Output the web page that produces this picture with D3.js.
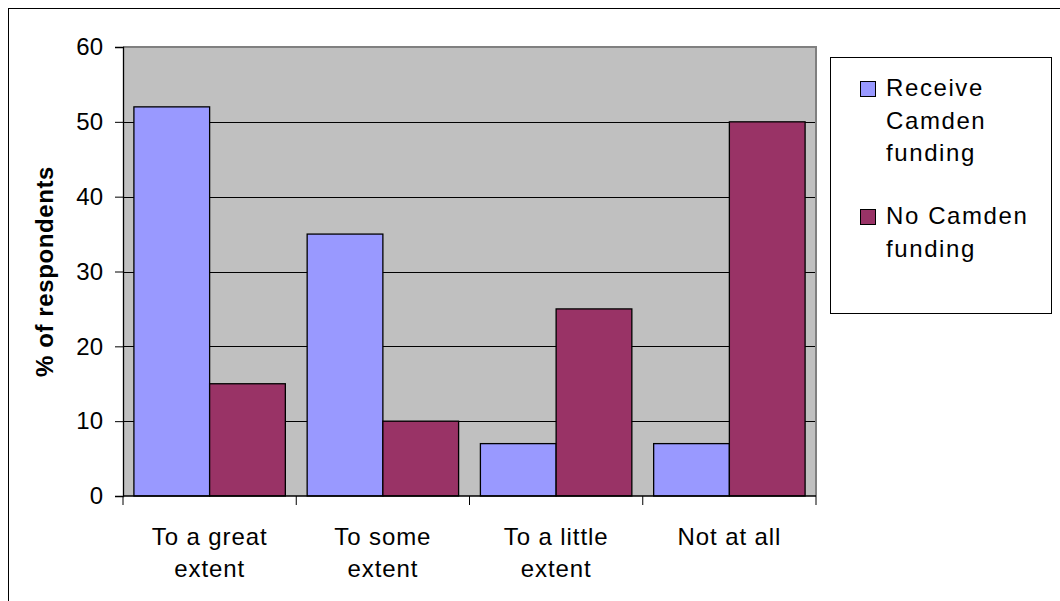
<!DOCTYPE html>
<html>
<head>
<meta charset="utf-8">
<script src="https://cdn.jsdelivr.net/npm/d3@7"></script>
<style>
  html, body { margin: 0; padding: 0; background: #ffffff; }
  svg { display: block; }
  text { font-family: "Liberation Sans", Arial, sans-serif; fill: #000; }
</style>
</head>
<body>
<svg id="chart" width="1060" height="601"></svg>
<script>
// Chart data
const categories = [["To a great", "extent"], ["To some", "extent"], ["To a little", "extent"], ["Not at all"]];
const seriesNames = [["Receive", "Camden", "funding"], ["No Camden", "funding"]];
const receiveFunding = [52, 35, 7, 7];
const noFunding = [15, 10, 25, 50];
const yTicks = [0, 10, 20, 30, 40, 50, 60];
const colors = ["#9999FF", "#993366"];

const svg = d3.select("#chart");
const W = 1060, H = 601;
const plot = { left: 123, right: 816, top: 47, bottom: 496 };

// Outer chart frame (runs off the right and bottom edges)
svg.append("rect")
  .attr("x", 8.5).attr("y", 8.5)
  .attr("width", W).attr("height", H)
  .attr("fill", "#fff").attr("stroke", "#000").attr("stroke-width", 1);

const catKeys = categories.map((c, i) => i);
const x0 = d3.scaleBand().domain(catKeys).range([plot.left, plot.right]).padding(0);
const x1 = d3.scaleBand().domain([0, 1]).range([0, x0.bandwidth()]).paddingInner(0).paddingOuter(0.144);
const y = d3.scaleLinear().domain([0, 60]).range([plot.bottom, plot.top]);

// Plot background
svg.append("rect")
  .attr("x", plot.left).attr("y", plot.top)
  .attr("width", plot.right - plot.left).attr("height", plot.bottom - plot.top)
  .attr("fill", "#C0C0C0");

// Horizontal gridlines
svg.append("g").selectAll("line")
  .data(yTicks.filter(t => t > 0 && t < 60))
  .join("line")
  .attr("x1", plot.left).attr("x2", plot.right)
  .attr("y1", d => Math.round(y(d)) + 0.5).attr("y2", d => Math.round(y(d)) + 0.5)
  .attr("stroke", "#000").attr("stroke-width", 1);

// Top and right plot border
svg.append("path")
  .attr("d", `M${plot.left},${plot.top} H${plot.right} V${plot.bottom}`)
  .attr("fill", "none").attr("stroke", "#808080").attr("stroke-width", 2);

// Bars
const rows = categories.map((c, i) => ({ i, vals: [receiveFunding[i], noFunding[i]] }));
const groups = svg.append("g").selectAll("g")
  .data(rows).join("g")
  .attr("transform", d => `translate(${x0(d.i)},0)`);
groups.selectAll("rect")
  .data(d => d.vals.map((v, s) => ({ v, s })))
  .join("rect")
  .attr("x", d => x1(d.s))
  .attr("y", d => y(d.v))
  .attr("width", x1.bandwidth())
  .attr("height", d => y(0) - y(d.v))
  .attr("fill", d => colors[d.s])
  .attr("stroke", "#000").attr("stroke-width", 1.3);

// Y axis
const yAxis = svg.append("g")
  .attr("transform", `translate(${plot.left},0)`)
  .call(d3.axisLeft(y).tickValues(yTicks).tickSize(8).tickPadding(12).tickFormat(d3.format("d")));
yAxis.select(".domain").attr("stroke", "#000").attr("stroke-width", 1.3);
yAxis.selectAll(".tick line").attr("stroke", "#000");
yAxis.selectAll(".tick text")
  .attr("font-size", 24).attr("font-family", "Liberation Sans, Arial, sans-serif").attr("fill", "#000");

// X axis with tick marks at category boundaries
const xAxisG = svg.append("g");
xAxisG.append("line")
  .attr("x1", plot.left).attr("x2", plot.right)
  .attr("y1", plot.bottom).attr("y2", plot.bottom)
  .attr("stroke", "#000").attr("stroke-width", 1.3);
xAxisG.selectAll("line.tk")
  .data(catKeys.concat([categories.length]))
  .join("line").attr("class", "tk")
  .attr("x1", d => d < categories.length ? x0(d) : plot.right)
  .attr("x2", d => d < categories.length ? x0(d) : plot.right)
  .attr("y1", plot.bottom).attr("y2", plot.bottom + 9)
  .attr("stroke", "#000").attr("stroke-width", 1);

// Category labels
xAxisG.selectAll("text.cat")
  .data(catKeys).join("text").attr("class", "cat")
  .attr("x", d => x0(d) + x0.bandwidth() / 2)
  .attr("y", 545)
  .attr("text-anchor", "middle")
  .attr("font-size", 24).attr("letter-spacing", 0.9)
  .each(function (d) {
    d3.select(this).selectAll("tspan")
      .data(categories[d]).join("tspan")
      .attr("x", x0(d) + x0.bandwidth() / 2)
      .attr("dy", (t, k) => k === 0 ? 0 : 32)
      .text(t => t);
  });

// Y axis title
svg.append("text")
  .attr("transform", `translate(53,${(plot.top + plot.bottom) / 2}) rotate(-90)`)
  .attr("text-anchor", "middle")
  .attr("font-size", 24).attr("font-weight", "bold").attr("letter-spacing", 0.6)
  .text("% of respondents");

// Legend
const legend = svg.append("g");
legend.append("rect")
  .attr("x", 830.5).attr("y", 57.5).attr("width", 221).attr("height", 256)
  .attr("fill", "#fff").attr("stroke", "#000").attr("stroke-width", 1);
const legendTop = [96, 224];
seriesNames.forEach((lines, s) => {
  legend.append("rect")
    .attr("x", 860.5).attr("y", legendTop[s] - 14.5).attr("width", 15).attr("height", 15)
    .attr("fill", colors[s]).attr("stroke", "#000").attr("stroke-width", 1);
  const t = legend.append("text")
    .attr("x", 886).attr("y", legendTop[s])
    .attr("font-size", 24).attr("letter-spacing", 1.6);
  t.selectAll("tspan").data(lines).join("tspan")
    .attr("x", 886)
    .attr("dy", (l, k) => k === 0 ? 0 : 32.5)
    .text(l => l);
});
</script>
</body>
</html>
